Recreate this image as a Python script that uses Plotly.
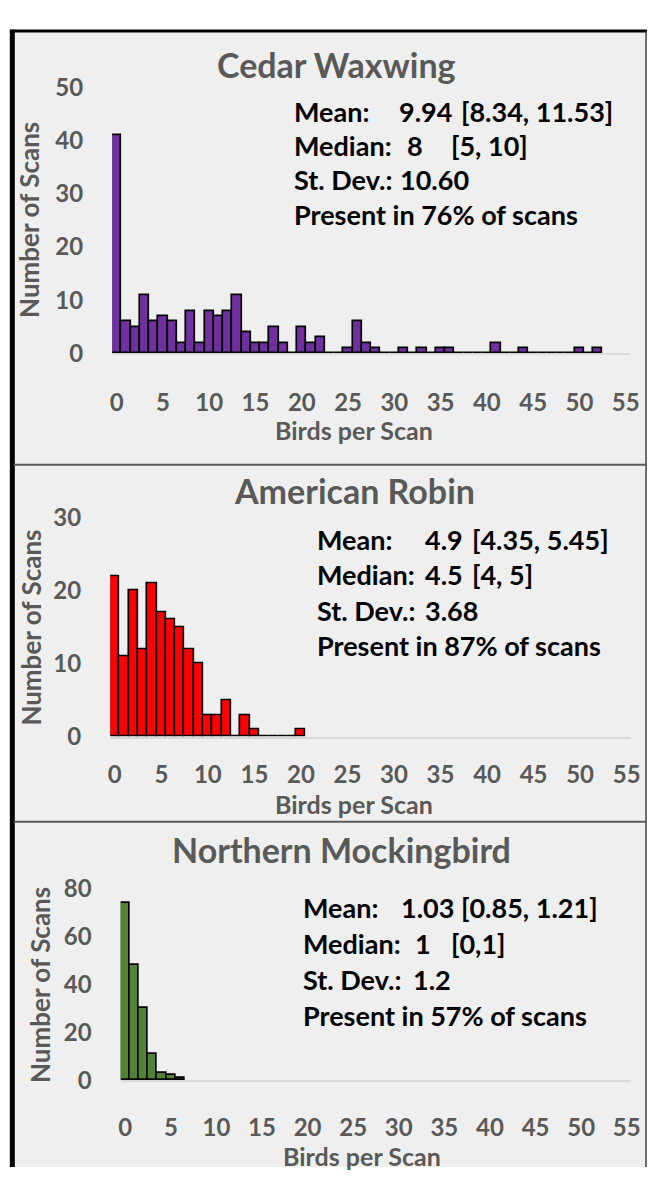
import plotly.graph_objects as go

# Histogram counts: number of scans with k birds, k = 0, 1, 2, ...
waxwing_counts = [41, 6, 5, 11, 6, 7, 6, 2, 8, 2, 8, 7, 8, 11, 4, 2, 2, 5, 2, 0,
                  5, 2, 3, 0, 0, 1, 6, 2, 1, 0, 0, 1, 0, 1, 0, 1, 1, 0, 0, 0,
                  0, 2, 0, 0, 1, 0, 0, 0, 0, 0, 1, 0, 1]
robin_counts = [22, 11, 20, 12, 21, 17, 16, 15, 12, 10, 3, 3, 5, 0, 3, 1, 0, 0, 0, 0, 1]
mockingbird_counts = [74, 48, 30, 11, 3, 2, 1]

species = ["Cedar Waxwing", "American Robin", "Northern Mockingbird"]
bar_colors = ["#7030a0", "#ff0000", "#548235"]
y_max = [50, 30, 80]
y_step = [10, 10, 20]
x_ticks = list(range(0, 56, 5))

# Summary statistics shown beside each histogram
stat_labels = ["Mean:", "Median:", "St. Dev.:"]
stat_values = [["9.94", "8", "10.60"], ["4.9", "4.5", "3.68"], ["1.03", "1", "1.2"]]
stat_ci = [["[8.34, 11.53]", "[5, 10]", ""], ["[4.35, 5.45]", "[4, 5]", ""],
           ["[0.85, 1.21]", "[0,1]", ""]]
present_pct = ["76%", "87%", "57%"]

W, H = 657, 1180
GREY = "#595959"
FONT = "Lato"


def px(x):
    return x / W


def py(y):
    return 1 - y / H


# Plot-area boxes in pixels: (left, right, top, bottom)
boxes = [(112, 639, 73, 346), (110, 640, 514, 739), (120.7, 640, 895, 1091)]
title_y = [50, 486, 855]
title_x = [340, 358, 345]
xtitle_y = [424, 808, 1169]
xtitle_x = [358, 358, 366]
ytitle_x = [28, 30, 38]
stat_x = [(295, 402, 465), (318, 428, 476), (304, 404, 465)]
stat_y0 = [98, 537, 914]
stat_dy = [35, 36, 37]
value_x_override = {(0, 1): 410, (0, 1, "ci"): 455, (0, 2): 403,
                    (2, 1): 418, (2, 2): 416, (2, 1, "ci"): 455}
xlabel_standoff = [27, 16, 25]

fig = go.Figure()
counts = [waxwing_counts, robin_counts, mockingbird_counts]
annotations = []

for i in range(3):
    n = "" if i == 0 else str(i + 1)
    left, right, top, bottom = boxes[i]
    fig.add_trace(go.Bar(
        x=list(range(len(counts[i]))), y=counts[i],
        marker=dict(color=bar_colors[i], line=dict(color="black", width=1.7)),
        xaxis="x" + n, yaxis="y" + n, showlegend=False,
    ))
    fig.update_layout(**{
        "xaxis" + n: dict(
            domain=[px(left), px(right)], anchor="y" + n, range=[-0.5, 55.5],
            tickvals=x_ticks, showgrid=False, zeroline=False,
            showline=True, linecolor="#d9d9d9", linewidth=1.5,
            ticks="", ticklabelstandoff=xlabel_standoff[i],
            tickfont=dict(family=FONT, size=24, color=GREY, weight=700),
        ),
        "yaxis" + n: dict(
            domain=[py(bottom), py(top)], anchor="x" + n, range=[0, y_max[i]],
            dtick=y_step[i], showgrid=False, zeroline=False, showline=False,
            ticks="", ticklabelstandoff=28,
            tickfont=dict(family=FONT, size=24, color=GREY, weight=700),
        ),
    })
    annotations.append(dict(
        text=species[i], x=px(title_x[i]), y=py(title_y[i]), xref="paper", yref="paper",
        showarrow=False, xanchor="center", yanchor="middle",
        font=dict(family=FONT, size=34, color=GREY, weight=700),
    ))
    annotations.append(dict(
        text="Birds per Scan", x=px(xtitle_x[i]), y=py(xtitle_y[i]), xref="paper",
        yref="paper", showarrow=False, xanchor="center", yanchor="middle",
        font=dict(family=FONT, size=25, color=GREY, weight=700),
    ))
    annotations.append(dict(
        text="Number of Scans", x=px(ytitle_x[i]), y=py((top + bottom) / 2),
        xref="paper", yref="paper", showarrow=False, textangle=-90,
        xanchor="center", yanchor="middle",
        font=dict(family=FONT, size=26, color=GREY, weight=700),
    ))
    xl, xv, xc = stat_x[i]
    stat_font = dict(family=FONT, size=27, color="black", weight=700)
    for r in range(3):
        yy = py(stat_y0[i] + r * stat_dy[i])
        annotations.append(dict(text=stat_labels[r], x=px(xl), y=yy, xref="paper",
                                yref="paper", showarrow=False, xanchor="left",
                                yanchor="middle", font=stat_font))
        annotations.append(dict(text=stat_values[i][r],
                                x=px(value_x_override.get((i, r), xv)), y=yy,
                                xref="paper", yref="paper", showarrow=False,
                                xanchor="left", yanchor="middle", font=stat_font))
        if stat_ci[i][r]:
            annotations.append(dict(text=stat_ci[i][r],
                                    x=px(value_x_override.get((i, r, "ci"), xc)),
                                    y=yy, xref="paper", yref="paper", showarrow=False,
                                    xanchor="left", yanchor="middle", font=stat_font))
    annotations.append(dict(
        text="Present in " + present_pct[i] + " of scans", x=px(xl),
        y=py(stat_y0[i] + 3 * stat_dy[i]), xref="paper", yref="paper",
        showarrow=False, xanchor="left", yanchor="middle", font=stat_font,
    ))

# Panel frame: grey card with a heavy black left/top edge and dividers
shapes = [
    dict(type="rect", xref="paper", yref="paper", x0=px(11), x1=px(655),
         y0=0, y1=py(15), fillcolor="#efefef", line=dict(width=0), layer="below"),
    dict(type="line", xref="paper", yref="paper", x0=px(10.5), x1=px(10.5),
         y0=0, y1=py(14), line=dict(color="black", width=5)),
    dict(type="line", xref="paper", yref="paper", x0=px(8), x1=px(656),
         y0=py(15.5), y1=py(15.5), line=dict(color="black", width=3)),
    dict(type="line", xref="paper", yref="paper", x0=px(655), x1=px(655),
         y0=0, y1=py(15), line=dict(color="#404040", width=1.5)),
    dict(type="line", xref="paper", yref="paper", x0=px(12), x1=px(655),
         y0=py(460), y1=py(460), line=dict(color="#5a5a5a", width=2)),
    dict(type="line", xref="paper", yref="paper", x0=px(12), x1=px(655),
         y0=py(826), y1=py(826), line=dict(color="#5a5a5a", width=2)),
]

fig.update_layout(
    width=W, height=H, margin=dict(l=0, r=0, t=0, b=0),
    paper_bgcolor="white", plot_bgcolor="white",
    bargap=0, annotations=annotations, shapes=shapes,
)

# Let the figure fill the page edge to edge (no default body margin/scrollbars)
fig.write_html(
    "out.html",
    post_script="document.body.style.margin='0';document.body.style.overflow='hidden';",
)
